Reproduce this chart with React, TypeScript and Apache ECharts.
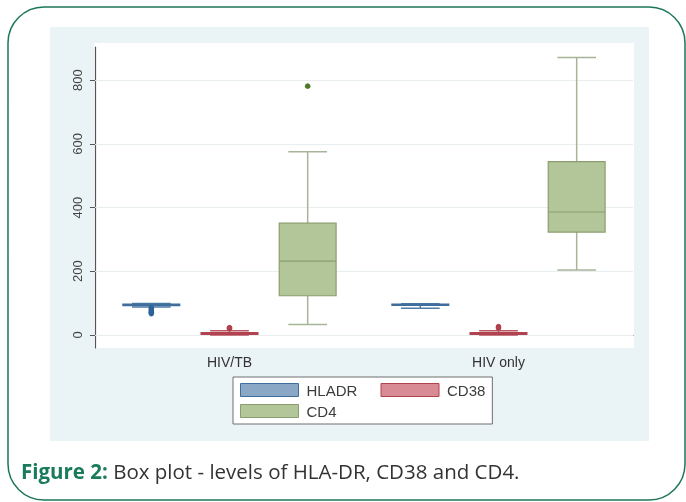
import React, { useEffect, useRef } from "react";
import * as echarts from "echarts";

const categories = ["HIV/TB", "HIV only"];
const seriesNames = ["HLADR", "CD38", "CD4"];
// [min, q1, median, q3, max] per category
const hladrBoxes = [
  [88, 92, 95, 97, 99],
  [84, 93, 95, 97, 98],
];
const cd38Boxes = [
  [0, 2, 4, 7, 13],
  [0, 2, 4, 7, 13],
];
const cd4Boxes = [
  [33, 123, 232, 351, 575],
  [204, 323, 386, 544, 871],
];
const hladrOutliers = [[85, 80, 75, 71, 67], []];
const cd38Outliers = [[20, 23], [22, 26]];
const cd4Outliers = [[781], []];
const yTicks = [0, 200, 400, 600, 800];

const styles = [
  { fill: "#8aa7c6", border: "#3f6e9c", whisker: "#4f7ca8", median: "#3f6e9c", outlier: "#2f6296" },
  { fill: "#d98b95", border: "#b1434f", whisker: "#bb5562", median: "#b1434f", outlier: "#b0404e" },
  { fill: "#b3c69a", border: "#8b9d6e", whisker: "#a8b398", median: "#8b9d6e", outlier: "#4e7a2a" },
];

const boxSets = [hladrBoxes, cd38Boxes, cd4Boxes];
const outlierSets = [hladrOutliers, cd38Outliers, cd4Outliers];

function makeRender(sIdx: number) {
  const st = styles[sIdx];
  const outs = outlierSets[sIdx];
  return (params: any, api: any) => {
    const cat = api.value(0);
    const bw = api.size([1, 0])[0];
    const avail = bw * 0.8 - 2;
    const gap = (avail / 3) * 0.3;
    const boxW = (avail - 2 * gap) / 3;
    const cx = api.coord([cat, 0])[0] + boxW / 2 - avail / 2 + sIdx * (gap + boxW);
    const y = (v: number) => api.coord([cat, v])[1];
    const yMin = y(api.value(1));
    const yQ1 = y(api.value(2));
    const yMed = y(api.value(3));
    const yQ3 = y(api.value(4));
    const yMax = y(api.value(5));
    const capW = boxW * 0.68;
    const children: any[] = [
      { type: "line", shape: { x1: cx, y1: yQ3, x2: cx, y2: yMax }, style: { stroke: st.whisker, lineWidth: 1.5 } },
      { type: "line", shape: { x1: cx, y1: yQ1, x2: cx, y2: yMin }, style: { stroke: st.whisker, lineWidth: 1.5 } },
      { type: "line", shape: { x1: cx - capW / 2, y1: yMax, x2: cx + capW / 2, y2: yMax }, style: { stroke: st.whisker, lineWidth: 1.5 } },
      { type: "line", shape: { x1: cx - capW / 2, y1: yMin, x2: cx + capW / 2, y2: yMin }, style: { stroke: st.whisker, lineWidth: 1.5 } },
      {
        type: "rect",
        shape: { x: cx - boxW / 2, y: yQ3, width: boxW, height: Math.max(yQ1 - yQ3, 1) },
        style: { fill: st.fill, stroke: st.border, lineWidth: 1.2 },
      },
      { type: "line", shape: { x1: cx - boxW / 2, y1: yMed, x2: cx + boxW / 2, y2: yMed }, style: { stroke: st.median, lineWidth: 1.2 } },
    ];
    (outs[params.dataIndex] || []).forEach((v: number) => {
      children.push({ type: "circle", shape: { cx: cx, cy: y(v), r: 2.8 }, style: { fill: st.outlier } });
    });
    return { type: "group", children };
  };
}

export default function App() {
  const ref = useRef<HTMLDivElement>(null);
  useEffect(() => {
    if (!ref.current) return;
    const chart = echarts.init(ref.current, undefined, { renderer: "svg" });
    const font = "Liberation Sans, Arial, sans-serif";
    const option: any = {
      animation: false,
      grid: { left: 95, right: 53, top: 47, bottom: 154 },
      graphic: [
        {
          type: "rect", z: -10, silent: true,
          shape: { x: 8, y: 7, width: 677, height: 493, r: 36 },
          style: { fill: "#ffffff", stroke: "#1c7659", lineWidth: 1.5 },
        },
        {
          type: "rect", z: -9, silent: true,
          shape: { x: 50, y: 27, width: 599, height: 414 },
          style: { fill: "#eaf3f6" },
        },
        {
          type: "rect", z: -8, silent: true,
          shape: { x: 94, y: 43, width: 540, height: 305 },
          style: { fill: "#ffffff" },
        },
        {
          type: "text", z: 10, silent: true,
          x: 21, y: 471,
          style: {
            text: "{b|Figure 2:} Box plot - levels of HLA-DR, CD38 and CD4.",
            fill: "#333333",
            fontFamily: "Open Sans, sans-serif",
            fontSize: 20.5,
            verticalAlign: "middle",
            rich: {
              b: { fill: "#1a7a5c", fontWeight: "bold", fontFamily: "Open Sans, sans-serif", fontSize: 20.5 },
            },
          },
        },
      ],
      legend: {
        left: 233, top: 377, orient: "horizontal", width: 250,
        padding: [5, 7, 5, 7], itemGap: 5, itemWidth: 58, itemHeight: 13,
        borderColor: "#6e6e6e", borderWidth: 1, backgroundColor: "#ffffff", borderRadius: 0,
        selectedMode: false, icon: "rect",
        textStyle: { fontFamily: font, fontSize: 15, color: "#3c3c3c", lineHeight: 16, padding: [0, 0, 0, 3] },
        data: seriesNames.map((n, i) => ({
          name: n,
          itemStyle: { color: styles[i].fill, borderColor: styles[i].border, borderWidth: 1 },
          textStyle: i === 1 ? {} : { width: 69 },
        })),
      },
      xAxis: {
        type: "category",
        data: categories,
        boundaryGap: true,
        axisLine: { show: true, lineStyle: { color: "#555555", width: 1.2 } },
        axisTick: { show: false },
        axisLabel: { fontFamily: font, fontSize: 14, color: "#333333", margin: 7 },
        splitLine: { show: false },
      },
      yAxis: {
        type: "value",
        min: -41,
        max: 904,
        axisLine: { show: true, lineStyle: { color: "#555555", width: 1.2 } },
        axisTick: { show: true, length: 5, customValues: yTicks, lineStyle: { color: "#555555" } },
        axisLabel: { customValues: yTicks, rotate: 90, fontFamily: font, fontSize: 13, color: "#444444", margin: 11 },
        splitLine: { show: false },
      },
      series: [
        {
          name: "gridlines",
          type: "line",
          data: [],
          silent: true,
          z: 1,
          markLine: {
            z: 1,
            silent: true,
            symbol: "none",
            label: { show: false },
            lineStyle: { color: "#e8eef0", type: "solid", width: 1 },
            data: yTicks.map((v) => ({ yAxis: v })),
          },
        },
        ...seriesNames.map((n, i) => ({
          name: n,
          type: "custom",
          renderItem: makeRender(i),
          itemStyle: { color: styles[i].fill },
          encode: { x: 0, y: [1, 2, 3, 4, 5] },
          data: boxSets[i].map((b, ci) => [ci, ...b]),
          z: 3,
        })),
      ],
    };
    chart.setOption(option);
    return () => chart.dispose();
  }, []);
  return (
    <div
      ref={ref}
      style={{ position: "fixed", left: 0, top: 0, width: 686, height: 502 }}
    />
  );
}
